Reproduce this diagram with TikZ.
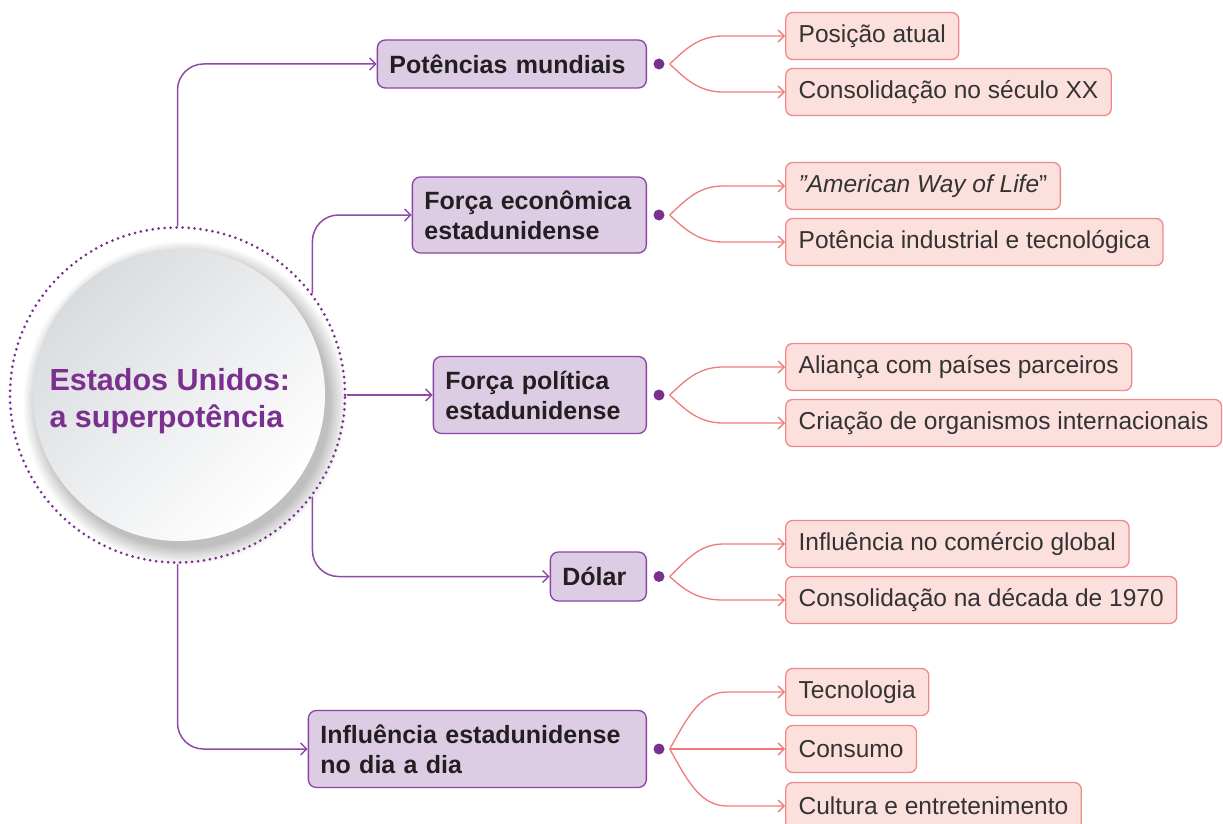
\documentclass[tikz,border=0pt]{standalone}
\usepackage{fontspec}
\setmainfont{Liberation Sans}
\usetikzlibrary{arrows.meta,calc}
\definecolor{ttl}{HTML}{7B2F8F}
\definecolor{pline}{HTML}{8E4BA6}
\definecolor{pfill}{HTML}{DCCDE5}
\definecolor{pdraw}{HTML}{8B44A3}
\definecolor{kfill}{HTML}{FCE0DD}
\definecolor{kdraw}{HTML}{F08A8A}
\definecolor{kline}{HTML}{F07B7B}
\definecolor{txt}{HTML}{231F20}
\definecolor{ktxt}{HTML}{333333}
\definecolor{discgray}{HTML}{D9DCDF}
\begin{document}
\begin{tikzpicture}[x=1pt,y=-1pt,
  mainbox/.style={draw=pdraw, fill=pfill, line width=1.3pt, rounded corners=8pt,
    font=\fontsize{25}{30}\selectfont\bfseries, text=txt, align=left,
    inner xsep=12pt, inner ysep=0pt, anchor=east},
  subbox/.style={draw=kdraw, fill=kfill, line width=1.3pt, rounded corners=7pt,
    font=\fontsize{24.5}{29}\selectfont, text=ktxt, inner xsep=13pt, inner ysep=0pt,
    minimum height=47pt, anchor=west},
  trunk/.style={draw=pline, line width=1.5pt, rounded corners=26pt,
    -{Straight Barb[length=6pt,width=12pt,line width=1.5pt]}},
  twig/.style={draw=kline, line width=1.3pt,
    -{Straight Barb[length=6pt,width=12pt,line width=1.3pt]}},
  hub/.style={circle, fill=ttl, inner sep=0pt, minimum size=11pt},
]
\useasboundingbox (0,0) rectangle (1223,824);
\fill[white] (0,0) rectangle (1223,824);

% shadow and disc
\foreach \k in {0,...,15}
  \fill[black, opacity=0.016] (185,403) circle[radius=145+\k*1.1];
\node[circle, minimum size=292pt, inner sep=0pt, top color=discgray, bottom color=white,
  shading angle=45] (disc) at (179,395) {};
\node[circle, minimum size=335pt, inner sep=0pt, draw=ttl, line width=3pt,
  dash pattern=on 0pt off 6pt, line cap=round] (outer) at (177.5,395) {};
\node[text=ttl, font=\fontsize{30.5}{37}\selectfont\bfseries, align=left, anchor=west]
  (title) at (46,401) {Estados Unidos:\\a superpotência};

% main boxes
\node[mainbox, text width=245pt, minimum height=48pt] (b1) at (647,64) {Potências mundiais};
\node[mainbox, text width=210pt, minimum height=76pt] (b2) at (647,215) {Força econômica\\estadunidense};
\node[mainbox, text width=189pt, minimum height=77pt] (b3) at (647,395) {Força política\\estadunidense};
\node[mainbox, text width=72pt, minimum height=49pt] (b4) at (647,576.5) {Dólar};
\node[mainbox, text width=314pt, minimum height=77pt] (b5) at (647,749) {Influência estadunidense\\no dia a dia};

% trunk connectors
\draw[trunk] (outer.north) |- (b1.west);
\draw[trunk] (outer.37.7) |- (b2.west);
\draw[trunk] (outer.east) -- (b3.west);
\draw[trunk] (outer.-37.7) |- (b4.west);
\draw[trunk] (outer.south) |- (b5.west);

% hubs
\node[hub] (h1) at (659,64) {};
\node[hub] (h2) at (659,215) {};
\node[hub] (h3) at (659,395) {};
\node[hub] (h4) at (659,576.5) {};
\node[hub] (h5) at (659,749) {};

% sub boxes
\node[subbox] (s1) at (785,36) {Posição atual};
\node[subbox] (s2) at (785,92) {Consolidação no século XX};
\node[subbox] (s3) at (785,186) {\textit{\symbol{34}American Way of Life}\symbol{34}};
\node[subbox] (s4) at (785,242) {Potência industrial e tecnológica};
\node[subbox] (s5) at (785,367) {Aliança com países parceiros};
\node[subbox] (s6) at (785,423) {Criação de organismos internacionais};
\node[subbox] (s7) at (785,544) {Influência no comércio global};
\node[subbox] (s8) at (785,600) {Consolidação na década de 1970};
\node[subbox] (s9) at (785,692) {Tecnologia};
\node[subbox] (s10) at (785,749) {Consumo};
\node[subbox] (s11) at (785,806) {Cultura e entretenimento};

% twigs
\draw[twig] ([xshift=5pt]h1.east) .. controls +(15,-14) and +(-25,0) .. ([xshift=-62pt]s1.west) -- (s1.west);
\draw[twig] ([xshift=5pt]h1.east) .. controls +(15,14) and +(-25,0) .. ([xshift=-62pt]s2.west) -- (s2.west);
\draw[twig] ([xshift=5pt]h2.east) .. controls +(15,-14) and +(-25,0) .. ([xshift=-62pt]s3.west) -- (s3.west);
\draw[twig] ([xshift=5pt]h2.east) .. controls +(15,14) and +(-25,0) .. ([xshift=-62pt]s4.west) -- (s4.west);
\draw[twig] ([xshift=5pt]h3.east) .. controls +(15,-14) and +(-25,0) .. ([xshift=-62pt]s5.west) -- (s5.west);
\draw[twig] ([xshift=5pt]h3.east) .. controls +(15,14) and +(-25,0) .. ([xshift=-62pt]s6.west) -- (s6.west);
\draw[twig] ([xshift=5pt]h4.east) .. controls +(15,-14) and +(-25,0) .. ([xshift=-62pt]s7.west) -- (s7.west);
\draw[twig] ([xshift=5pt]h4.east) .. controls +(15,14) and +(-25,0) .. ([xshift=-62pt]s8.west) -- (s8.west);
\draw[twig] ([xshift=5pt]h5.east) .. controls +(16,-28) and +(-28,0) .. ([xshift=-58pt]s9.west) -- (s9.west);
\draw[twig] ([xshift=5pt]h5.east) -- (s10.west);
\draw[twig] ([xshift=5pt]h5.east) .. controls +(16,28) and +(-28,0) .. ([xshift=-58pt]s11.west) -- (s11.west);
\end{tikzpicture}
\end{document}
